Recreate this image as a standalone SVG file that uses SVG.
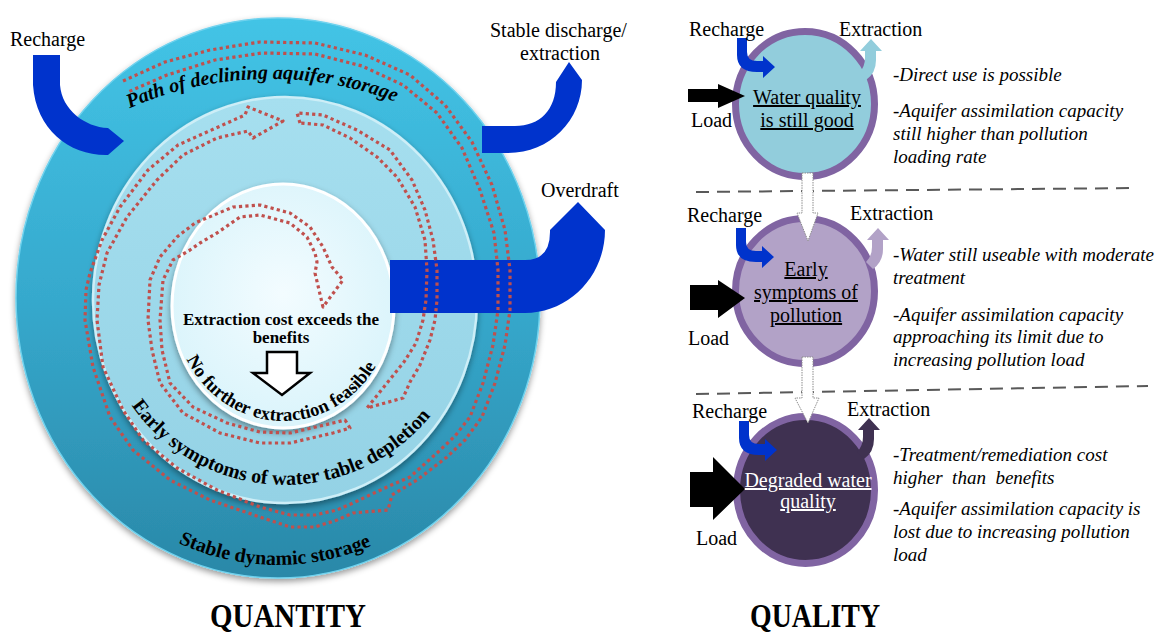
<svg xmlns="http://www.w3.org/2000/svg" width="1164" height="635" viewBox="0 0 1164 635">
<style>
.lbl{font-family:"Liberation Serif","Times New Roman",serif;font-size:20px;fill:#000}
.note{font-family:"Liberation Serif","Times New Roman",serif;font-style:italic;font-size:19px;fill:#000;white-space:pre}
.cv{font-family:"Liberation Serif","Times New Roman",serif;font-weight:bold;font-size:20px;fill:#000}
.cvi{font-family:"Liberation Serif","Times New Roman",serif;font-weight:bold;font-style:italic;font-size:20px;fill:#000}
.ctr{font-family:"Liberation Serif","Times New Roman",serif;font-weight:bold;font-size:17px;fill:#000;text-anchor:middle}
.ctext{font-family:"Liberation Serif","Times New Roman",serif;font-size:20px;text-decoration:underline;text-anchor:middle}
.title{font-family:"Liberation Serif","Times New Roman",serif;font-weight:bold;font-size:34px;fill:#000}
.dot{fill:none;stroke:#c0504d;stroke-width:3.2;stroke-dasharray:3.2 3.2;stroke-linejoin:round}
.blue{fill:#0033cc}
.sep{stroke:#595959;stroke-width:2;stroke-dasharray:13 8;fill:none}
.hollow{fill:#fff;stroke:#8c8c8c;stroke-width:1;stroke-dasharray:1.5 1}
.circ{stroke:#8064a2;stroke-width:7}
</style>
<defs>
<linearGradient id="gOuter" x1="0" y1="0" x2="0" y2="1">
<stop offset="0" stop-color="#43c4e6"/>
<stop offset="0.5" stop-color="#36a9cd"/>
<stop offset="1" stop-color="#2a88a8"/>
</linearGradient>
<linearGradient id="gMid" x1="0" y1="0" x2="0" y2="1">
<stop offset="0" stop-color="#a6dfef"/>
<stop offset="1" stop-color="#94d2e5"/>
</linearGradient>
<radialGradient id="gIn" cx="0.5" cy="0.45" r="0.55">
<stop offset="0" stop-color="#f3fcff"/>
<stop offset="1" stop-color="#daf4fb"/>
</radialGradient>
<filter id="sh" x="-10%" y="-10%" width="120%" height="125%">
<feDropShadow dx="0" dy="3" stdDeviation="3" flood-color="#000" flood-opacity="0.4"/>
</filter>
<path id="tpPath" d="M26.6,188.5 A281,219 0 0 1 513.4,188.5"/>
<path id="tpStable" d="M134.6,516.7 A250,267 0 0 0 421.4,516.7"/>
<path id="tpEarly" d="M115.5,378 A187,185 0 0 0 454.5,378"/>
<path id="tpNo" d="M175.7,326 A109,115 0 0 0 388.3,335.8"/>
<path id="rch" d="M737,38 L747,38 L747,52 Q747,61 757,61 L763,61 L763,56 L775,67 L763,78 L763,72 L757,72 Q737,72 737,55 Z"/>
<path id="ext" d="M865,51 L860,51 L871,39 L882,51 L876,51 L876,60 Q876,73 866,80 L859,73 Q865,67 865,58 Z"/>
</defs>

<rect width="1164" height="635" fill="#fff"/>

<g id="quantity">
<g id="ring-outer">
<ellipse cx="278" cy="298" rx="262" ry="280" fill="url(#gOuter)" stroke="#6fd2ee" stroke-width="1.5" filter="url(#sh)"/>
</g>
<g id="ring-middle">
<ellipse cx="285" cy="300" rx="192" ry="203" fill="url(#gMid)" stroke="#cdeef7" stroke-width="2.5" filter="url(#sh)"/>
</g>
<g id="ring-inner">
<ellipse cx="283" cy="306" rx="111" ry="122" fill="url(#gIn)" stroke="#ffffff" stroke-width="3" filter="url(#sh)"/>
</g>

<g id="arrow-recharge">
<path class="blue" d="M33,55 L60,55 L60,85 C62,110 85,127 108,128 L124,141 L108,155 C70,156 36,130 33,85 Z"/>
<text class="lbl" x="10" y="46">Recharge</text>
</g>
<g id="arrow-stable-discharge">
<path class="blue" d="M482,126 L515,126 C540,126 556,110 556,82 L569,62 L582,80 C582,120 550,153 508,153 L482,153 Z"/>
<text class="lbl" x="490" y="37">Stable discharge/</text>
<text class="lbl" x="520" y="60">extraction</text>
</g>
<g id="arrow-overdraft">
<path class="blue" d="M390,260 L525,260 Q550,260 550,232 L550,230 L578,202 L605,230 C605,276 569,313 525,313 L390,313 Z"/>
<text class="lbl" x="541" y="197">Overdraft</text>
</g>

<g id="connectors-spiral">
<path class="dot" d="M123,81 L165,62 L210,50 L260,42 L315,43 L365,55 L410,75 L445,105 L472,142 L492,185 L505,230 L510,270 L510,310 L505,345 L495,383 L482,417 L465,440 L447,457 L417,480 L392,495 L388,510 L353,513 L337,520 L315,527 L290,527 L260,517 L210,500 L170,480 L133,450 L110,417 L93,367 L85,320 L86,290 L90,273 L102,240 L120,207 L148,170 L178,145 L207,132 L245,115 L248,107 L283,121 L253,138 L248,131 L217,138 L183,155 L157,180 L127,217 L107,253 L99,285 L97,320 L103,367 L123,410 L143,440 L177,468 L217,490 L260,507 L290,515 L315,515 L337,510 L353,503 L387,487 L410,477 L437,453 L455,436 L470,417 L483,383 L493,345 L498,310 L498,270 L494,233 L480,190 L462,148 L437,113 L403,85 L362,66 L315,54 L262,53 L215,60 L167,75 L128,92"/>
<path class="dot" d="M300,123 L297,113 L323,115 L357,130 L390,150 L412,180 L425,210 L433,240 L437,270 L437,300 L435,320 L430,340 L420,365 L410,382 L403,398 L367,408 L404,362 L416,343 L423,320 L426,300 L427,270 L425,240 L415,207 L397,177 L377,157 L350,138 L323,125 Z"/>
<path class="dot" d="M345,420 L350,428 L333,433 L290,443 L260,443 L220,433 L183,413 L160,383 L152,350 L148,320 L150,280 L160,257 L177,237 L195,223 L233,207 L260,205 L290,213 L310,227 L323,247 L332,267 L343,280 L323,307 L315,273 L317,262 L315,253 L307,237 L290,223 L260,215 L240,217 L217,233 L200,243 L190,250 L173,260 L163,280 L160,320 L162,350 L170,383 L193,407 L227,423 L260,432 L290,433 L333,423 Z"/>
</g>

<g id="ring-labels">
<text class="cvi"><textPath href="#tpPath" startOffset="48.5%" text-anchor="middle">Path of declining aquifer storage</textPath></text>
<text class="cv"><textPath href="#tpStable" startOffset="48.9%" text-anchor="middle">Stable dynamic storage</textPath></text>
<text class="cv"><textPath href="#tpEarly" startOffset="48.5%" text-anchor="middle">Early symptoms of water table depletion</textPath></text>
<text class="cv" style="font-size:18.5px"><textPath href="#tpNo" startOffset="50.4%" text-anchor="middle">No further extraction feasible</textPath></text>
</g>

<g id="center-note">
<text class="ctr" x="281" y="325">Extraction cost exceeds the</text>
<text class="ctr" x="281" y="343">benefits</text>
<path d="M267,352 L297,352 L297,373 L310,373 L282,395 L253,373 L267,373 Z" fill="#fff" stroke="#000" stroke-width="2.5" stroke-linejoin="miter"/>
</g>

<text class="title" x="210" y="627" textLength="156" lengthAdjust="spacingAndGlyphs">QUANTITY</text>
</g>

<g id="quality">
<g id="separators">
<path class="sep" d="M696,192 L1137,188"/>
<path class="sep" d="M696,394 L1148,386"/>
</g>

<g id="state-good">
<ellipse class="circ" cx="805" cy="104" rx="69.5" ry="72.5" fill="#92cddc"/>
<text class="ctext" x="807" y="104" fill="#000">Water quality</text>
<text class="ctext" x="807" y="127" fill="#000">is still good</text>
</g>
<g id="state-early">
<ellipse class="circ" cx="805" cy="291" rx="69.5" ry="72.5" fill="#b2a2c7"/>
<text class="ctext" x="806" y="276" fill="#000">Early</text>
<text class="ctext" x="806" y="299" fill="#000">symptoms of</text>
<text class="ctext" x="806" y="322" fill="#000">pollution</text>
</g>
<g id="state-degraded">
<ellipse class="circ" cx="805.5" cy="490" rx="69" ry="73.5" fill="#3f3151"/>
<text class="ctext" x="808" y="487" fill="#fff">Degraded water</text>
<text class="ctext" x="808" y="508" fill="#fff">quality</text>
</g>

<g id="connectors-quality">
<use href="#rch" fill="#0033cc"/>
<use href="#rch" fill="#0033cc" transform="translate(-1,190)"/>
<use href="#rch" fill="#0033cc" transform="translate(2,383)"/>
<use href="#ext" fill="#92cddc"/>
<use href="#ext" fill="#b2a2c7" transform="translate(7,189)"/>
<use href="#ext" fill="#3f3151" transform="translate(-2,379)"/>
<path d="M688,89 L718,89 L718,84 L745,96 L718,108 L718,102 L688,102 Z" fill="#000"/>
<path d="M690,285 L718,285 L718,280 L745,298 L718,318 L718,310 L690,310 Z" fill="#000"/>
<path d="M690,472 L713,472 L713,457 L745,489 L713,520 L713,507 L690,507 Z" fill="#000"/>
<path class="hollow" d="M802,173 L813,173 L813,213 L818,213 L808,241 L797,213 L802,213 Z"/>
<path class="hollow" d="M802,357 L813,357 L813,398 L819,398 L808,423 L795,398 L802,398 Z"/>
</g>

<g id="quality-labels">
<text class="lbl" x="689" y="36">Recharge</text>
<text class="lbl" x="839" y="36">Extraction</text>
<text class="lbl" x="691" y="127">Load</text>
<text class="lbl" x="687" y="222">Recharge</text>
<text class="lbl" x="850" y="220">Extraction</text>
<text class="lbl" x="688" y="345">Load</text>
<text class="lbl" x="692" y="418">Recharge</text>
<text class="lbl" x="847" y="416">Extraction</text>
<text class="lbl" x="696" y="545">Load</text>
</g>

<g id="quality-notes">
<text class="note" x="893" y="81">-Direct use is possible</text>
<text class="note" x="893" y="117">-Aquifer assimilation capacity</text>
<text class="note" x="893" y="140">still higher than pollution</text>
<text class="note" x="893" y="163">loading rate</text>
<text class="note" x="893" y="261">-Water still useable with moderate</text>
<text class="note" x="893" y="284">treatment</text>
<text class="note" x="893" y="321">-Aquifer assimilation capacity</text>
<text class="note" x="893" y="343">approaching its limit due to</text>
<text class="note" x="893" y="366">increasing pollution load</text>
<text class="note" x="893" y="461">-Treatment/remediation cost</text>
<text class="note" x="893" y="484">higher  than  benefits</text>
<text class="note" x="893" y="515">-Aquifer assimilation capacity is</text>
<text class="note" x="893" y="538">lost due to increasing pollution</text>
<text class="note" x="893" y="561">load</text>
</g>

<text class="title" x="750" y="627" textLength="130" lengthAdjust="spacingAndGlyphs">QUALITY</text>
</g>
</svg>
